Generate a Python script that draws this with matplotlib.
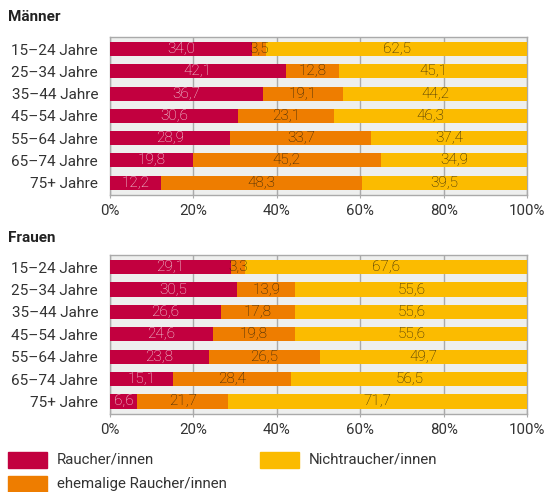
import matplotlib.pyplot as plt
from matplotlib.patches import Rectangle

plt.rcParams['font.family'] = ['Roboto', 'DejaVu Sans']

ages = ['15–24 Jahre', '25–34 Jahre', '35–44 Jahre', '45–54 Jahre',
        '55–64 Jahre', '65–74 Jahre', '75+ Jahre']

m_raucher = [34.0, 42.1, 36.7, 30.6, 28.9, 19.8, 12.2]
m_ehemalig = [3.5, 12.8, 19.1, 23.1, 33.7, 45.2, 48.3]
m_nicht = [62.5, 45.1, 44.2, 46.3, 37.4, 34.9, 39.5]

f_raucher = [29.1, 30.5, 26.6, 24.6, 23.8, 15.1, 6.6]
f_ehemalig = [3.3, 13.9, 17.8, 19.8, 26.5, 28.4, 21.7]
f_nicht = [67.6, 55.6, 55.6, 55.6, 49.7, 56.5, 71.7]

legend_labels = ['Raucher/innen', 'ehemalige Raucher/innen', 'Nichtraucher/innen']
colors = ['#C2003F', '#EE7D00', '#FBBB00']
text_colors = ['#F6E6EA', '#2A200C', '#2A200C']


def fmt(v):
    return f'{v:.1f}'.replace('.', ',')


def draw(ax, series):
    y = list(range(len(ages)))
    left = [0] * len(ages)
    for vals, c, tc in zip(series, colors, text_colors):
        bars = ax.barh(y, vals, left=left, color=c, height=0.63, zorder=3)
        for b, v in zip(bars, vals):
            ax.text(b.get_x() + b.get_width() / 2, b.get_y() + b.get_height() / 2,
                    fmt(v), ha='center', va='center', color=tc, fontsize=11,
                    fontweight='light', zorder=4)
        left = [l + v for l, v in zip(left, vals)]
    ax.set_facecolor('#EEEFEE')
    ax.set_xlim(0, 100)
    ax.set_ylim(len(ages) - 0.45, -0.55)
    ax.set_yticks(y)
    ax.set_yticklabels(ages, fontsize=11, color='#333333')
    ax.set_xticks([0, 20, 40, 60, 80, 100])
    ax.set_xticklabels(['0%', '20%', '40%', '60%', '80%', '100%'], fontsize=10.8, color='#333333')
    ax.tick_params(axis='y', length=0, pad=8.5)
    ax.tick_params(axis='x', length=5, color='#AAAAAA', pad=4, direction='inout')
    ax.grid(axis='x', color='#AAAAAA', linewidth=1, zorder=1)
    for s in ax.spines.values():
        s.set_color('#AAAAAA')
        s.set_linewidth(1)


fig = plt.figure(figsize=(5.44, 4.92), dpi=100)
ax1 = fig.add_axes([0.202, 0.604, 0.767, 0.321])
ax2 = fig.add_axes([0.202, 0.159, 0.767, 0.323])
draw(ax1, [m_raucher, m_ehemalig, m_nicht])
draw(ax2, [f_raucher, f_ehemalig, f_nicht])

fig.text(0.015, 0.965, 'Männer', fontsize=11, fontweight='bold', va='center', color='#222222')
fig.text(0.015, 0.516, 'Frauen', fontsize=11, fontweight='bold', va='center', color='#222222')

# legend
leg_pos = [(8, 452), (8, 476), (260, 452)]
for (px, py), c, lab in zip(leg_pos, colors, legend_labels):
    fig.patches.append(Rectangle((px / 544, 1 - (py + 16) / 492), 39 / 544, 16 / 492,
                                 transform=fig.transFigure, color=c))
    fig.text((px + 49) / 544, 1 - (py + 8) / 492, lab, fontsize=10.8, va='center',
             color='#333333')

fig.savefig('out.png', dpi=100)
